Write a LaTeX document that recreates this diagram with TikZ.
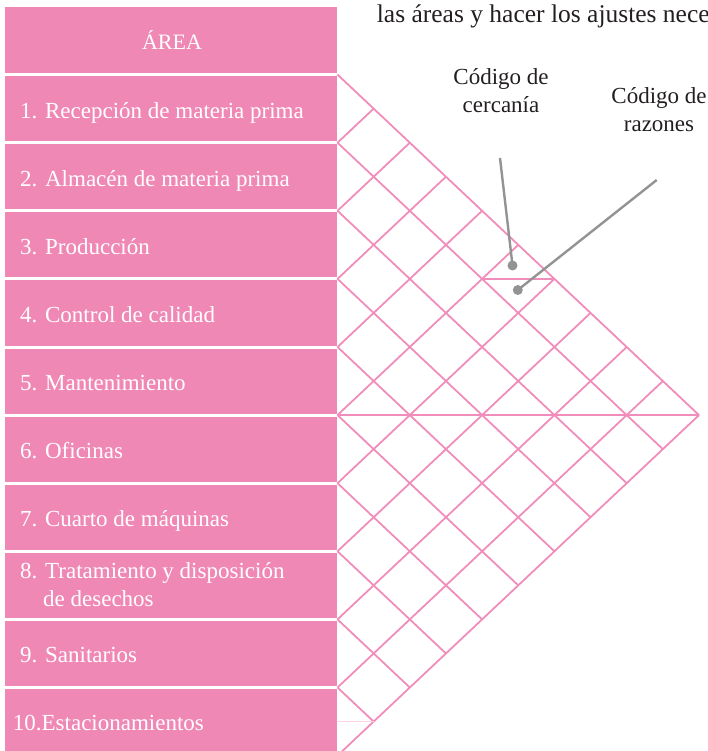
\documentclass[tikz,border=0pt]{standalone}
\usepackage{fontspec}
\setmainfont{Liberation Serif}
\definecolor{rosa}{HTML}{F088B5}
\definecolor{linea}{HTML}{F08DBA}
\definecolor{lineaclara}{HTML}{FAD3E4}
\definecolor{gris}{HTML}{939393}
\definecolor{tinta}{HTML}{231F20}
\tikzset{
  areabox/.style={fill=rosa, draw=none, anchor=north west, minimum width=332pt, inner sep=0pt, outer sep=0pt},
  rowtxt/.style={anchor=base west, text=white, inner sep=0pt, font=\fontsize{23}{28}\selectfont},
  gridline/.style={draw=linea, line width=1.8pt},
  calltxt/.style={text=tinta, align=center, inner sep=0pt, font=\fontsize{23}{28}\selectfont},
  callline/.style={draw=gris, line width=2.4pt},
  calldot/.style={circle, fill=gris, minimum size=10pt, inner sep=0pt}
}
\begin{document}
\begin{tikzpicture}[x=1pt,y=-1pt]
\useasboundingbox (0,0) rectangle (707,751);
\clip (0,0) rectangle (707,751);
% grid
\foreach \k in {0,...,10}{
  \pgfmathsetmacro{\yk}{74.6+68.1*\k}
  \pgfmathsetmacro{\dn}{10-\k}
  \draw[gridline] (337.5,\yk) -- ++(36.15*\dn,34.05*\dn);
  \draw[gridline] (337.5,\yk) -- ++(36.15*\k,-34.05*\k);
}
\draw[gridline] (337.5,415.1) -- (699,415.1);
\draw[gridline] (482.1,278.9) -- (554.4,278.9);
\draw[draw=lineaclara, line width=1.5pt] (337.5,721.6) -- (373.65,721.6);
% boxes
\node[areabox, minimum height=66pt] (b0) at (5,7) {};
\foreach \i in {1,...,10}{
  \pgfmathsetmacro{\ytop}{74.6+68.1*(\i-1)+1.5}
  \node[areabox, minimum height=65.1pt] (b\i) at (5,\ytop) {};
}
\node[anchor=base, text=white, inner sep=0pt, font=\fontsize{22}{26}\selectfont] (t0) at (172,49.3) {ÁREA};
\node[rowtxt] (t1) at (20,119) {1. Recepción de materia prima};
\node[rowtxt] (t2) at (20,186.95) {2. Almacén de materia prima};
\node[rowtxt] (t3) at (20,254.9) {3. Producción};
\node[rowtxt] (t4) at (20,322.85) {4. Control de calidad};
\node[rowtxt] (t5) at (20,390.8) {5. Mantenimiento};
\node[rowtxt] (t6) at (20,458.75) {6. Oficinas};
\node[rowtxt] (t7) at (20,526.7) {7. Cuarto de máquinas};
\node[rowtxt] (t8a) at (20,578.3) {8. Tratamiento y disposición};
\node[rowtxt] (t8b) at (43,606.7) {de desechos};
\node[rowtxt] (t9) at (20,662.6) {9. Sanitarios};
\node[rowtxt] (t10) at (12.7,730.5) {10.Estacionamientos};
% top text
\node[anchor=base west, text=tinta, inner sep=0pt, font=\fontsize{25.5}{30}\selectfont] (top) at (376.7,23) {las áreas y hacer los ajustes nece};
% callouts
\node[calltxt, anchor=base] (c1) at (501,113) {Código de\\cercanía};
\node[calltxt, anchor=base] (c2) at (659,131.5) {Código de\\razones};
\node[calldot] (d1) at (512.5,265.5) {};
\node[calldot] (d2) at (517.8,290) {};
\coordinate (s1) at (500,158);
\coordinate (s2) at (656.7,180);
\draw[callline] (s1) -- (d1.center);
\draw[callline] (s2) -- (d2.center);
\end{tikzpicture}
\end{document}
